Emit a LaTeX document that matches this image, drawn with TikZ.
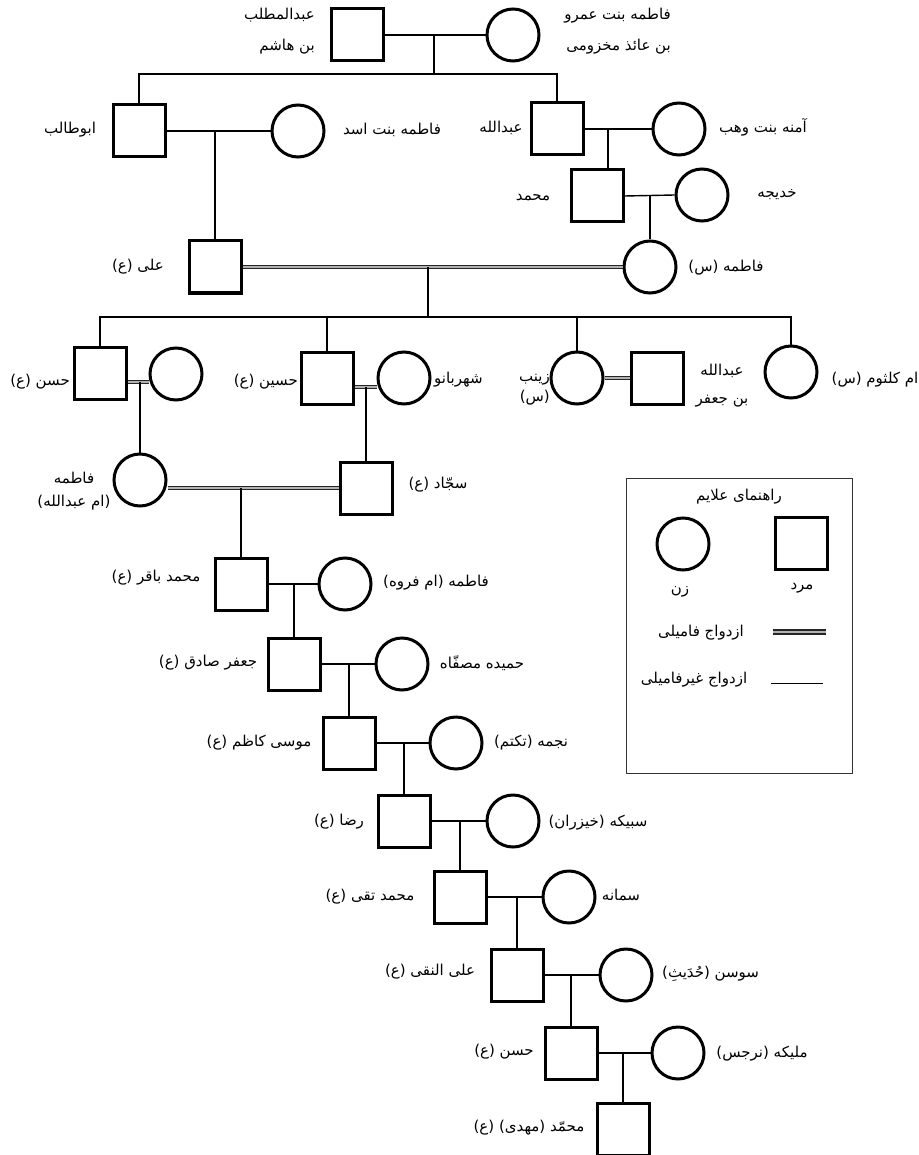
\documentclass[tikz,border=0pt]{standalone}
\usepackage{fontspec}
\newfontfamily\arabicfont[Script=Arabic]{DejaVu Sans}
\TeXXeTstate=1
\newcommand{\fa}[1]{\beginR #1\endR}
\begin{document}
\begin{tikzpicture}[x=1pt,y=-1pt,
  man/.style={draw, rectangle, line width=3pt, minimum size=52pt, inner sep=0pt},
  woman/.style={draw, circle, line width=3pt, minimum size=52pt, inner sep=0pt},
  lbl/.style={font=\arabicfont\fontsize{15}{18}\selectfont, inner sep=0pt, align=center},
  mline/.style={line width=1.4pt},
  fline/.style={draw=black!85, line width=1.5pt, double=gray!60, double distance=1.8pt},
]
\useasboundingbox (0,0) rectangle (918,1155);
\fill[white] (0,0) rectangle (918,1155);

% ---------- persons ----------
\node[man]   (ab)    at (357,35)  {};
\node[woman] (fb)    at (513,35)  {};
\node[man]   (abt)   at (139,131) {};
\node[woman] (fasad) at (298,131) {};
\node[man]   (abd)   at (557,129) {};
\node[woman] (amina) at (679,129) {};
\node[man]   (muh)   at (597,196) {};
\node[woman] (khad)  at (702,195) {};
\node[man]   (ali)   at (215,267) {};
\node[woman] (fat)   at (650,267) {};
\node[man]   (hasan) at (100,373) {};
\node[woman] (hw)    at (176,374) {};
\node[man]   (husn)  at (327,378) {};
\node[woman] (shb)   at (404,378) {};
\node[woman] (zay)   at (577,378) {};
\node[man]   (abj)   at (657,378) {};
\node[woman] (umk)   at (791,372) {};
\node[woman] (fum)   at (140,480) {};
\node[man]   (saj)   at (366,488) {};
\node[man]   (baq)   at (241,584) {};
\node[woman] (ufar)  at (345,584) {};
\node[man]   (sad)   at (294,664) {};
\node[woman] (ham)   at (402,664) {};
\node[man]   (kaz)   at (349,743) {};
\node[woman] (naj)   at (456,743) {};
\node[man]   (rez)   at (404,821) {};
\node[woman] (sab)   at (513,821) {};
\node[man]   (taq)   at (460,897) {};
\node[woman] (sam)   at (569,897) {};
\node[man]   (naq)   at (517,975) {};
\node[woman] (sus)   at (626,975) {};
\node[man]   (has2)  at (571,1053) {};
\node[woman] (mal)   at (678,1053) {};
\node[man]   (mah)   at (623,1129) {};

% ---------- helper coordinates ----------
\coordinate (m0) at (434,35);
\coordinate (b0) at (434,74);
\coordinate (d1) at (608,129);
\coordinate (c1) at (428,267);
\coordinate (c2) at (428,317);
\coordinate (hm) at (140,382);
\coordinate (sm) at (366,387);
\coordinate (fs) at (241,488);

% ---------- connectors ----------
\draw[mline] (ab.east) -- (fb.west);
\draw[mline] (m0) -- (b0);
\draw[mline] (abt.north) |- (b0) -| (abd.north);

\draw[mline] (abt.east) -- (fasad.west);
\draw[mline] (ali.north) -- (ali.north |- abt.east);

\draw[mline] (abd.east) -- (amina.west);
\draw[mline] (d1) -- (d1 |- muh.north);

\draw[mline] (muh.east) -- (khad.west);
\draw[mline] (fat.north) -- (fat.north |- khad.west);

\draw[fline] (ali.east) -- (fat.west);
\draw[mline] (c1) -- (c2);
\draw[mline] (hasan.north) |- (c2) -| (umk.north);
\draw[mline] (husn.north) -- (husn.north |- c2);
\draw[mline] (zay.north) -- (zay.north |- c2);

\draw[fline] (hasan.east |- hm) -- (hw.west |- hm);
\draw[mline] (hm) -- (fum.north);
\draw[fline] (husn.east |- sm) -- (shb.west |- sm);
\draw[mline] (sm) -- (saj.north);
\draw[fline] (zay.east) -- (abj.west);

\draw[fline] (fum.east |- saj.west) -- (saj.west);
\draw[mline] (fs) -- (baq.north);

\draw[mline] (baq.east) -- (ufar.west);
\draw[mline] (sad.north) -- (sad.north |- baq.east);
\draw[mline] (sad.east) -- (ham.west);
\draw[mline] (kaz.north) -- (kaz.north |- sad.east);
\draw[mline] (kaz.east) -- (naj.west);
\draw[mline] (rez.north) -- (rez.north |- kaz.east);
\draw[mline] (rez.east) -- (sab.west);
\draw[mline] (taq.north) -- (taq.north |- rez.east);
\draw[mline] (taq.east) -- (sam.west);
\draw[mline] (naq.north) -- (naq.north |- taq.east);
\draw[mline] (naq.east) -- (sus.west);
\draw[mline] (has2.north) -- (has2.north |- naq.east);
\draw[mline] (has2.east) -- (mal.west);
\draw[mline] (mah.north) -- (mah.north |- has2.east);

% ---------- labels ----------
\node[lbl, anchor=east, align=right] (t-ab) at (315,31) {\fa{عبدالمطلب}\\[13pt]\fa{بن هاشم}};
\node[lbl, anchor=east, align=right] (t-fb) at (671,31) {\fa{فاطمه بنت عمرو}\\[13pt]\fa{بن عائذ مخزومی}};
\node[lbl] (t-abt)   at (70,130)  {\fa{ابوطالب}};
\node[lbl] (t-fasad) at (392,130) {\fa{فاطمه بنت اسد}};
\node[lbl] (t-abd)   at (501,128) {\fa{عبدالله}};
\node[lbl] (t-amina) at (763,127) {\fa{آمنه بنت وهب}};
\node[lbl] (t-muh)   at (533,198) {\fa{محمد}};
\node[lbl] (t-khad)  at (777,195) {\fa{خدیجه}};
\node[lbl] (t-ali)   at (138,267) {\fa{علی (ع)}};
\node[lbl] (t-fat)   at (726,268) {\fa{فاطمه (س)}};
\node[lbl, anchor=east] (t-hasan) at (70,382) {\fa{حسن (ع)}};
\node[lbl, anchor=east] (t-husn)  at (298,382) {\fa{حسین (ع)}};
\node[lbl, anchor=west] (t-shb)   at (434,380) {\fa{شهربانو}};
\node[lbl, anchor=east, align=right] (t-zay) at (550,390) {\fa{زینب}\\[2pt]\fa{(س)}};
\node[lbl] (t-abj)   at (722,386) {\fa{عبدالله}\\[10pt]\fa{بن جعفر}};
\node[lbl] (t-umk)   at (875,380) {\fa{ام کلثوم (س)}};
\node[lbl] (t-fum)   at (74,491)  {\fa{فاطمه}\\[5pt]\fa{(ام عبدالله)}};
\node[lbl] (t-saj)   at (438,485) {\fa{سجّاد (ع)}};
\node[lbl] (t-baq)   at (156,578) {\fa{محمد باقر (ع)}};
\node[lbl] (t-ufar)  at (436,583) {\fa{فاطمه (ام فروه)}};
\node[lbl] (t-sad)   at (208,663) {\fa{جعفر صادق (ع)}};
\node[lbl] (t-ham)   at (482,663) {\fa{حمیده مصفّاه}};
\node[lbl] (t-kaz)   at (259,743) {\fa{موسی کاظم (ع)}};
\node[lbl] (t-naj)   at (531,743) {\fa{نجمه (تکتم)}};
\node[lbl] (t-rez)   at (339,822) {\fa{رضا (ع)}};
\node[lbl] (t-sab)   at (598,823) {\fa{سبیکه (خیزران)}};
\node[lbl] (t-taq)   at (370,897) {\fa{محمد تقی (ع)}};
\node[lbl] (t-sam)   at (621,895) {\fa{سمانه}};
\node[lbl] (t-naq)   at (430,972) {\fa{علی النقی (ع)}};
\node[lbl, anchor=west] (t-sus) at (662,974) {\fa{سوسن (حُدَیثِ)}};
\node[lbl] (t-has2)  at (504,1052) {\fa{حسن (ع)}};
\node[lbl] (t-mal)   at (762,1054) {\fa{ملیکه (نرجس)}};
\node[lbl] (t-mah)   at (529,1128) {\fa{محمّد (مهدی) (ع)}};

% ---------- legend ----------
\node[draw=black!80, line width=1pt, minimum width=226pt, minimum height=295pt, inner sep=0pt] (legend) at (739,625.5) {};
\node[lbl] (l-title) at (739,497) {\fa{راهنمای علایم}};
\node[woman] (l-woman) at (683,544) {};
\node[man]   (l-man)   at (801,543) {};
\node[lbl] (l-zan)  at (680,592) {\fa{زن}};
\node[lbl] (l-mard) at (802,588) {\fa{مرد}};
\node[lbl] (l-fam)  at (701,633) {\fa{ازدواج فامیلی}};
\node[lbl] (l-nfam) at (694,680) {\fa{ازدواج غیرفامیلی}};
\coordinate (lf1) at (773,632);
\coordinate (lf2) at (826,632);
\coordinate (ln1) at (771,683);
\coordinate (ln2) at (823,683);
\draw[fline, double distance=2.4pt] (lf1) -- (lf2);
\draw[line width=1pt] (ln1) -- (ln2);
\end{tikzpicture}
\end{document}
